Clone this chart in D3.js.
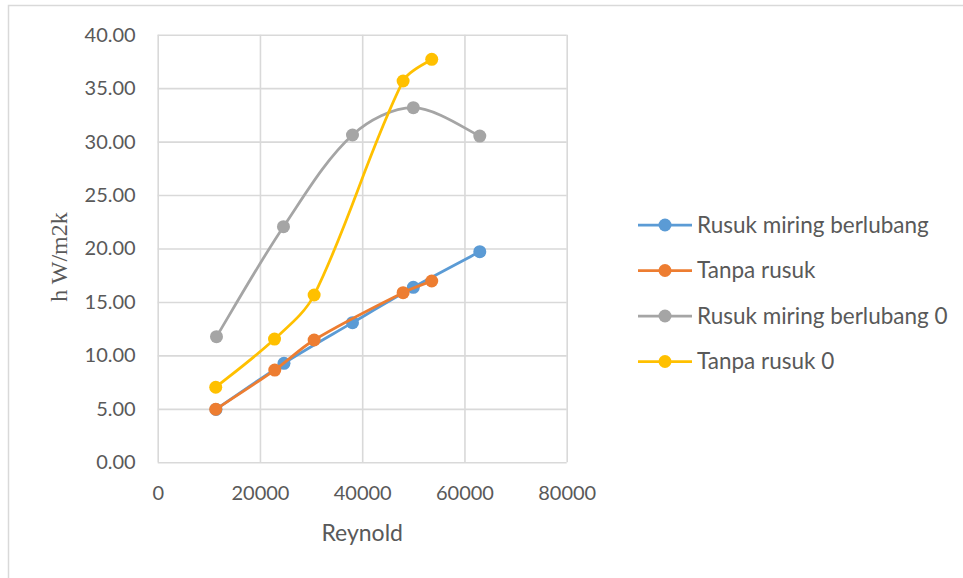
<!DOCTYPE html>
<html>
<head>
<meta charset="utf-8">
<script src="https://cdn.jsdelivr.net/npm/d3@7"></script>
<style>
  html, body { margin: 0; padding: 0; background: #ffffff; }
  svg { display: block; }
</style>
</head>
<body>
<svg id="chart" width="963" height="578"></svg>
<script>
// ---- data ----
const seriesNames = ["Rusuk miring berlubang", "Tanpa rusuk", "Rusuk miring berlubang 0", "Tanpa rusuk 0"];
const seriesColors = ["#5B9BD5", "#ED7D31", "#A5A5A5", "#FFC000"];

const rusukX  = [11400, 24700, 38100, 50000, 63000];
const rusukY  = [4.95, 9.26, 13.06, 16.37, 19.70];

const tanpaX  = [11350, 22900, 30600, 48000, 53600];
const tanpaY  = [4.96, 8.63, 11.44, 15.87, 16.96];

const rusuk0X = [11500, 24600, 38100, 50000, 63000];
const rusuk0Y = [11.75, 22.04, 30.62, 33.17, 30.52];

const tanpa0X = [11350, 22850, 30600, 48000, 53600];
const tanpa0Y = [7.02, 11.53, 15.65, 35.67, 37.70];

const xTicks = [0, 20000, 40000, 60000, 80000];
const yTicks = [0, 5, 10, 15, 20, 25, 30, 35, 40];

const xTitle = "Reynold";
const yTitle = "h W/m2k";

// ---- spreadsheet-style smoothed curve for d3.line ----
function SmoothCurve(context) { this._context = context; }
SmoothCurve.prototype = {
  areaStart() { this._line = 0; },
  areaEnd() { this._line = NaN; },
  lineStart() { this._pts = []; },
  point(px, py) { this._pts.push([+px, +py]); },
  lineEnd() {
    const p = this._pts, n = p.length, c = this._context;
    if (!n) return;
    c.moveTo(p[0][0], p[0][1]);
    if (n === 1) return;
    if (n === 2) { c.lineTo(p[1][0], p[1][1]); return; }
    const dist = i => Math.hypot(p[i + 1][0] - p[i][0], p[i + 1][1] - p[i][1]);
    const tan = i => {
      const a = p[Math.max(i - 1, 0)], b = p[Math.min(i + 1, n - 1)];
      return [b[0] - a[0], b[1] - a[1]];
    };
    for (let i = 0; i < n - 1; i++) {
      const di = dist(i);
      const t0 = tan(i), t1 = tan(i + 1);
      const k1 = i > 0 ? (1 / 3) * di / (dist(i - 1) + di) : 1 / 6;
      const k2 = i + 1 < n - 1 ? (1 / 3) * di / (di + dist(i + 1)) : 1 / 6;
      c.bezierCurveTo(
        p[i][0] + t0[0] * k1, p[i][1] + t0[1] * k1,
        p[i + 1][0] - t1[0] * k2, p[i + 1][1] - t1[1] * k2,
        p[i + 1][0], p[i + 1][1]
      );
    }
  }
};
const smoothCurve = context => new SmoothCurve(context);

// ---- layout ----
const svg = d3.select("#chart");
const plot = { left: 157.7, right: 566.7, top: 34.7, bottom: 462.3 };
const x = d3.scaleLinear().domain([0, 80000]).range([plot.left, plot.right]);
const y = d3.scaleLinear().domain([0, 40]).range([plot.bottom, plot.top]);

const textColor = "#595959";
const gridColor = "#d9d9d9";
const tickFont = "Lato, 'Open Sans', sans-serif";

// chart area border
svg.append("rect")
  .attr("x", 8.5).attr("y", 5.5)
  .attr("width", 1000).attr("height", 1000)
  .attr("fill", "#ffffff")
  .attr("stroke", gridColor).attr("stroke-width", 1.5);

// gridlines via axes
const gx = svg.append("g")
  .attr("transform", `translate(0,${plot.bottom})`)
  .call(d3.axisBottom(x).tickValues(xTicks).tickSize(-(plot.bottom - plot.top)).tickFormat(d3.format("d")).tickPadding(24));
gx.select(".domain").remove();
gx.selectAll(".tick line").attr("stroke", gridColor).attr("stroke-width", 1.6);
gx.selectAll(".tick text")
  .attr("fill", textColor).attr("font-family", tickFont).attr("font-size", 20);

const gy = svg.append("g")
  .attr("transform", `translate(${plot.left},0)`)
  .call(d3.axisLeft(y).tickValues(yTicks).tickSize(-(plot.right - plot.left)).tickFormat(d3.format(".2f")).tickPadding(22));
gy.select(".domain").remove();
gy.selectAll(".tick line").attr("stroke", gridColor).attr("stroke-width", 1.6);
gy.selectAll(".tick text")
  .attr("fill", textColor).attr("font-family", tickFont).attr("font-size", 20);

// axis titles
svg.append("text")
  .attr("x", (plot.left + plot.right) / 2).attr("y", 541)
  .attr("text-anchor", "middle")
  .attr("fill", textColor).attr("font-family", tickFont).attr("font-size", 23)
  .text(xTitle);

svg.append("text")
  .attr("transform", "translate(67,257) rotate(-90)")
  .attr("text-anchor", "middle")
  .attr("fill", textColor).attr("font-family", "'Liberation Serif', 'Times New Roman', serif").attr("font-size", 24)
  .text(yTitle);

// series
const seriesData = [
  { xs: rusukX, ys: rusukY },
  { xs: tanpaX, ys: tanpaY },
  { xs: rusuk0X, ys: rusuk0Y },
  { xs: tanpa0X, ys: tanpa0Y }
];

const line = d3.line()
  .x(d => x(d[0])).y(d => y(d[1]))
  .curve(smoothCurve);

seriesData.forEach((s, i) => {
  const pts = s.xs.map((v, j) => [v, s.ys[j]]);
  const g = svg.append("g");
  g.append("path")
    .datum(pts)
    .attr("d", line)
    .attr("fill", "none")
    .attr("stroke", seriesColors[i])
    .attr("stroke-width", 2.75)
    .attr("stroke-linejoin", "round");
  g.selectAll("circle")
    .data(pts)
    .join("circle")
    .attr("cx", d => x(d[0]))
    .attr("cy", d => y(d[1]))
    .attr("r", 6.5)
    .attr("fill", seriesColors[i]);
});

// legend
const legendX0 = 638, legendX1 = 692, legendTextX = 697;
const legendY0 = 225, legendStep = 45.5;
seriesNames.forEach((name, i) => {
  const ly = legendY0 + i * legendStep;
  const g = svg.append("g");
  g.append("line")
    .attr("x1", legendX0).attr("x2", legendX1)
    .attr("y1", ly).attr("y2", ly)
    .attr("stroke", seriesColors[i]).attr("stroke-width", 2.75);
  g.append("circle")
    .attr("cx", (legendX0 + legendX1) / 2).attr("cy", ly).attr("r", 6.5)
    .attr("fill", seriesColors[i]);
  g.append("text")
    .attr("x", legendTextX).attr("y", ly)
    .attr("dy", "0.35em")
    .attr("fill", textColor).attr("font-family", tickFont).attr("font-size", 22.5)
    .text(name);
});
</script>
</body>
</html>
